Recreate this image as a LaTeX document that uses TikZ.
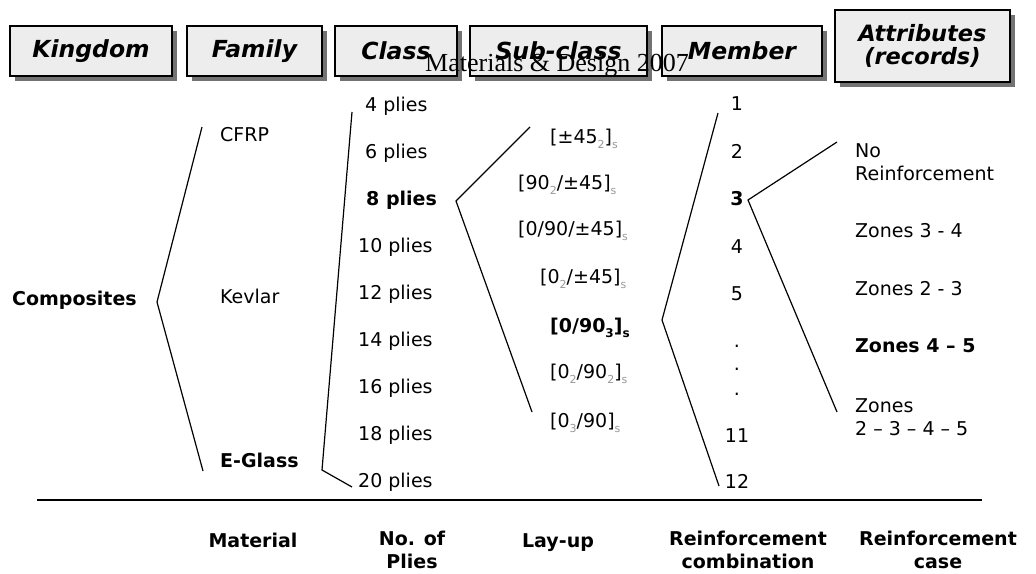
\documentclass[tikz,border=0pt]{standalone}
\usepackage{fontspec}
\setmainfont{DejaVu Sans}
\newfontfamily\wmfont{Liberation Serif}
\usetikzlibrary{shadows}
\newcommand{\lsub}[1]{\raisebox{-0.55ex}{\fontsize{11}{11}\selectfont\color{black!40}#1}}
\newcommand{\bsub}[1]{\raisebox{-0.55ex}{\fontsize{12}{12}\selectfont #1}}
\begin{document}
\begin{tikzpicture}[x=1pt,y=-1pt,
  hdr/.style={draw=black, line width=1.3pt, fill=black!7, minimum height=50pt, inner sep=0pt,
    font=\fontsize{23.5}{23}\selectfont\bfseries\itshape, align=center,
    drop shadow={shadow xshift=5pt, shadow yshift=-5pt, fill=black!55, opacity=1}},
  txt/.style={inner sep=0pt, anchor=base west, font=\fontsize{19}{23}\selectfont},
  btxt/.style={inner sep=0pt, anchor=base west, font=\fontsize{19}{23}\selectfont\bfseries},
  ctxt/.style={inner sep=0pt, anchor=base, font=\fontsize{19}{23}\selectfont},
  bctxt/.style={inner sep=0pt, anchor=base, font=\fontsize{19}{23}\selectfont\bfseries},
  atxt/.style={txt, align=left},
  lbl/.style={inner sep=0pt, anchor=base, align=center, font=\fontsize{19}{23}\selectfont\bfseries},
  br/.style={line width=1.2pt, line join=miter}
]
\useasboundingbox[fill=white] (0,0) rectangle (1036,573);

% headers
\node[hdr, minimum width=162pt] (hK) at (91,51) {Kingdom};
\node[hdr, minimum width=135pt] (hF) at (254.5,51) {Family};
\node[hdr, minimum width=122pt] (hC) at (396,51) {Class};
\node[hdr, minimum width=177pt] (hS) at (558.5,51) {Sub-class};
\node[hdr, minimum width=160pt] (hM) at (742,51) {Member};
\node[hdr, minimum width=175pt, minimum height=72pt, font=\fontsize{22.5}{23}\selectfont\bfseries\itshape] (hA) at (922.5,46) {Attributes\\(records)};
\node[inner sep=0pt, anchor=base west, font=\wmfont\fontsize{26}{26}\selectfont] (wm) at (425,71) {Materials \& Design 2007};

% kingdom
\node[btxt] (comp) at (12,305) {Composites};
% families
\node[txt] (cfrp) at (220,141) {CFRP};
\node[txt] (kev) at (220,303) {Kevlar};
\node[btxt] (egl) at (220,467) {E-Glass};
% classes
\node[txt] (c4) at (365,111) {4 plies};
\node[txt] (c6) at (365,158) {6 plies};
\node[btxt] (c8) at (366,205) {8 plies};
\node[txt] (c10) at (358,252) {10 plies};
\node[txt] (c12) at (358,299) {12 plies};
\node[txt] (c14) at (358,346) {14 plies};
\node[txt] (c16) at (358,393) {16 plies};
\node[txt] (c18) at (358,440) {18 plies};
\node[txt] (c20) at (358,487) {20 plies};
% sub-classes
\node[txt] (s1) at (550,143) {[±45\lsub{2}]\lsub{s}};
\node[txt] (s2) at (518,189) {[90\lsub{2}/±45]\lsub{s}};
\node[txt] (s3) at (518,235) {[0/90/±45]\lsub{s}};
\node[txt] (s4) at (540,283) {[0\lsub{2}/±45]\lsub{s}};
\node[btxt] (s5) at (550,332) {[0/90\bsub{3}]\bsub{s}};
\node[txt] (s6) at (550,378) {[0\lsub{2}/90\lsub{2}]\lsub{s}};
\node[txt] (s7) at (550,427) {[0\lsub{3}/90]\lsub{s}};
% members
\node[ctxt] (m1) at (737,110) {1};
\node[ctxt] (m2) at (737,158) {2};
\node[bctxt] (m3) at (737,205) {3};
\node[ctxt] (m4) at (737,253) {4};
\node[ctxt] (m5) at (737,300) {5};
\node[ctxt] (d1) at (737,347) {.};
\node[ctxt] (d2) at (737,370) {.};
\node[ctxt] (d3) at (737,395) {.};
\node[ctxt] (m11) at (737,442) {11};
\node[ctxt] (m12) at (737,488) {12};
% attributes
\node[atxt] (a1) at (855,180) {No\\Reinforcement};
\node[txt] (a2) at (855,237) {Zones 3 - 4};
\node[txt] (a3) at (855,295) {Zones 2 - 3};
\node[btxt] (a4) at (855,352) {Zones 4 – 5};
\node[atxt] (a5) at (855,435) {Zones\\2 – 3 – 4 – 5};

% brackets
\coordinate (k1) at (202,127); \coordinate (kv) at (157,302); \coordinate (k2) at (203,471);
\draw[br] (k1) -- (kv) -- (k2);
\coordinate (cl1) at (352,112); \coordinate (clv) at (322,470); \coordinate (cl2) at (352,487);
\draw[br] (cl1) -- (clv) -- (cl2);
\coordinate (p1) at (530,127); \coordinate (pv) at (456,201); \coordinate (p2) at (532,412);
\draw[br] (p1) -- (pv) -- (p2);
\coordinate (l1) at (718,113); \coordinate (lv) at (662,320); \coordinate (l2) at (719,486);
\draw[br] (l1) -- (lv) -- (l2);
\coordinate (q1) at (837,142); \coordinate (qv) at (748,200); \coordinate (q2) at (837,412);
\draw[br] (q1) -- (qv) -- (q2);

% rule
\coordinate (ruleL) at (37,500); \coordinate (ruleR) at (982,500);
\draw[line width=1.5pt] (ruleL) -- (ruleR);

% bottom labels
\node[lbl] (b1) at (253,547) {Material};
\node[lbl] (b2) at (412,568) {No. of\\Plies};
\node[lbl] (b3) at (558,547) {Lay-up};
\node[lbl] (b4) at (748,568) {Reinforcement\\combination};
\node[lbl] (b5) at (938,568) {Reinforcement\\case};
\end{tikzpicture}
\end{document}
